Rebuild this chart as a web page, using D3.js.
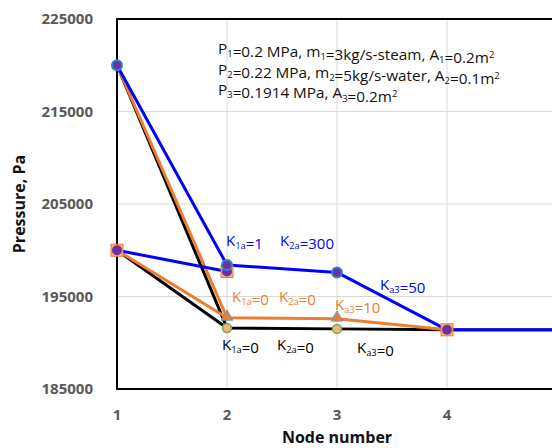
<!DOCTYPE html>
<html>
<head>
<meta charset="utf-8">
<script src="https://cdn.jsdelivr.net/npm/d3@7"></script>
<style>
  body { margin: 0; background: #fff; }
  svg { display: block; font-family: "Open Sans", "Noto Sans", sans-serif; }
</style>
</head>
<body>
<div id="chart"></div>
<script>
// node numbers along the pipe network
const nodes = [1, 2, 3, 4, 5];
const yTicks = [185000, 195000, 205000, 215000, 225000];
const xTicks = [1, 2, 3, 4, 5];
const xTickLabels = ["1", "2", "3", "4", ""];

// pressure (Pa) from inlet 1 through the nodes, one series per loss case
const blueMain = [220000, 198400, 197600, 191400, 191400];   // K1a=1, K2a=300, Ka3=50
const orangeMain = [220000, 192700, 192600, 191400, 191400]; // K1a=0, K2a=0, Ka3=10
const blackMain = [220000, 191600, 191500, 191400, 191400];  // all K = 0

// inlet 2 joins at node 2
const inletNodes = [1, 2];
const blueInlet = [200000, 197700];
const orangeInlet = [200000, 192700];
const blackInlet = [200000, 191600];

// outlet node
const outletNode = [4];
const outletP = [191400];

const width = 552, height = 448;
const margin = { left: 117, top: 19, bottom: 59 };

const svg = d3.select("#chart").append("svg")
  .attr("width", width)
  .attr("height", height);

const x = d3.scaleLinear().domain([1, 5]).range([margin.left, 557]);
const y = d3.scaleLinear().domain([185000, 225000]).range([height - margin.bottom, margin.top]);

// gridlines
svg.append("g").selectAll("line.gx")
  .data(xTicks.slice(1, -1))
  .join("line")
  .attr("x1", d => x(d)).attr("x2", d => x(d))
  .attr("y1", y(225000)).attr("y2", y(185000))
  .attr("stroke", "#d9d9d9").attr("stroke-width", 1);

svg.append("g").selectAll("line.gy")
  .data(yTicks.slice(1, -1))
  .join("line")
  .attr("x1", x(1)).attr("x2", x(5))
  .attr("y1", d => y(d)).attr("y2", d => y(d))
  .attr("stroke", "#d9d9d9").attr("stroke-width", 1);

// plot frame
svg.append("rect")
  .attr("x", x(1)).attr("y", y(225000))
  .attr("width", x(5) - x(1)).attr("height", y(185000) - y(225000))
  .attr("fill", "none").attr("stroke", "#000").attr("stroke-width", 2);

// tick labels
svg.append("g").selectAll("text")
  .data(yTicks)
  .join("text")
  .attr("x", 93).attr("y", d => y(d))
  .attr("dy", "0.35em")
  .attr("text-anchor", "end")
  .attr("font-size", 15).attr("font-weight", "bold")
  .attr("fill", "#595959")
  .text(d => d);

svg.append("g").selectAll("text")
  .data(xTicks.filter((d, i) => xTickLabels[i]))
  .join("text")
  .attr("x", d => x(d)).attr("y", 415)
  .attr("dy", "0.35em")
  .attr("text-anchor", "middle")
  .attr("font-size", 15).attr("font-weight", "bold")
  .attr("fill", "#595959")
  .text((d, i) => xTickLabels[i]);

svg.append("text")
  .attr("transform", "translate(19," + y(205000) + ") rotate(-90)")
  .attr("text-anchor", "middle").attr("dy", "0.35em")
  .attr("font-size", 16).attr("font-weight", "bold")
  .attr("fill", "#111")
  .text("Pressure, Pa");

svg.append("text")
  .attr("x", x(3)).attr("y", 437)
  .attr("text-anchor", "middle").attr("dy", "0.35em")
  .attr("font-size", 16).attr("font-weight", "bold")
  .attr("fill", "#111")
  .text("Node number");

// lines
const line = (xs) => d3.line().x((d, i) => x(xs[i])).y(d => y(d));

const series = [
  { xs: nodes, vals: blackMain, color: "#000000" },
  { xs: inletNodes, vals: blackInlet, color: "#000000" },
  { xs: nodes, vals: orangeMain, color: "#ed7d31" },
  { xs: inletNodes, vals: orangeInlet, color: "#ed7d31" },
  { xs: inletNodes, vals: blueInlet, color: "#0000ff" },
  { xs: nodes, vals: blueMain, color: "#0000ff" }
];

svg.append("g").selectAll("path")
  .data(series)
  .join("path")
  .attr("d", s => line(s.xs)(s.vals))
  .attr("fill", "none")
  .attr("stroke", s => s.color)
  .attr("stroke-width", 3)
  .attr("stroke-linejoin", "round");

// markers
const pts = (xs, vals, n) => vals.slice(0, n).map((v, i) => ({ x: xs[i], v }));
const mk = svg.append("g");

mk.selectAll("circle.blk")
  .data(pts(nodes, blackMain, 3).slice(1))
  .join("circle")
  .attr("cx", d => x(d.x)).attr("cy", d => y(d.v)).attr("r", 4.5)
  .attr("fill", "#f4b183").attr("stroke", "#70ad47").attr("stroke-width", 1.5);

mk.selectAll("path.tri")
  .data(pts(nodes, orangeMain, 3).slice(1))
  .join("path")
  .attr("transform", d => "translate(" + x(d.x) + "," + (y(d.v) - 1) + ")")
  .attr("d", d3.symbol(d3.symbolTriangle, 60))
  .attr("fill", "#ed7d31").attr("stroke", "#5b9bd5").attr("stroke-width", 1);

const sq = pts(inletNodes, blueInlet, 2).concat(outletNode.map((n, i) => ({ x: n, v: outletP[i] })));
mk.selectAll("rect.sq")
  .data(sq)
  .join("rect")
  .attr("x", d => x(d.x) - 6).attr("y", d => y(d.v) - 6)
  .attr("width", 12).attr("height", 12)
  .attr("fill", "#f4b183").attr("stroke", "#ed7d31").attr("stroke-width", 1);
mk.selectAll("circle.sqc")
  .data(sq)
  .join("circle")
  .attr("cx", d => x(d.x)).attr("cy", d => y(d.v)).attr("r", 5)
  .attr("fill", "#7030a0");

mk.selectAll("circle.blu")
  .data(pts(nodes, blueMain, 3))
  .join("circle")
  .attr("cx", d => x(d.x)).attr("cy", d => y(d.v)).attr("r", 5)
  .attr("fill", "#7030a0").attr("stroke", "#2e86c8").attr("stroke-width", 2);

// rich text with sub / superscripts
function rich(xp, yp, parts, size, color) {
  const t = svg.append("text")
    .attr("x", xp).attr("y", yp)
    .attr("font-size", size).attr("fill", color);
  parts.forEach(p => {
    const [s, kind] = p;
    if (!kind) {
      t.append("tspan").attr("dy", 0).attr("font-size", size).text(s);
    } else {
      const off = kind === "sub" ? size * 0.2 : -size * 0.32;
      t.append("tspan").attr("dy", off).attr("font-size", size * 0.62).text(s);
      t.append("tspan").attr("dy", -off).text("");
    }
  });
  return t;
}

const info = [
  [["P"], ["1", "sub"], ["=0.2 MPa, m"], ["1", "sub"], ["=3kg/s-steam, A"], ["1", "sub"], ["=0.2m"], ["2", "sup"]],
  [["P"], ["2", "sub"], ["=0.22 MPa, m"], ["2", "sub"], ["=5kg/s-water, A"], ["2", "sub"], ["=0.1m"], ["2", "sup"]],
  [["P"], ["3", "sub"], ["=0.1914 MPa, A"], ["3", "sub"], ["=0.2m"], ["2", "sup"]]
];
info.forEach((parts, i) => rich(218, 54 + i * 20.7, parts, 15.3, "#111"));

// loss coefficient labels
const kLabels = [
  { x: 226, y: 246, parts: [["K"], ["1a", "sub"], ["=1"]], color: "#0000ff" },
  { x: 280, y: 246, parts: [["K"], ["2a", "sub"], ["=300"]], color: "#0000ff" },
  { x: 380, y: 290, parts: [["K"], ["a3", "sub"], ["=50"]], color: "#0000ff" },
  { x: 232, y: 302, parts: [["K"], ["1a", "sub"], ["=0"]], color: "#ed7d31" },
  { x: 279, y: 302, parts: [["K"], ["2a", "sub"], ["=0"]], color: "#ed7d31" },
  { x: 335, y: 310, parts: [["K"], ["a3", "sub"], ["=10"]], color: "#ed7d31" },
  { x: 222, y: 350, parts: [["K"], ["1a", "sub"], ["=0"]], color: "#000000" },
  { x: 277, y: 350, parts: [["K"], ["2a", "sub"], ["=0"]], color: "#000000" },
  { x: 357, y: 353, parts: [["K"], ["a3", "sub"], ["=0"]], color: "#000000" }
];
kLabels.forEach(k => rich(k.x, k.y, k.parts, 15, k.color));
</script>
</body>
</html>
